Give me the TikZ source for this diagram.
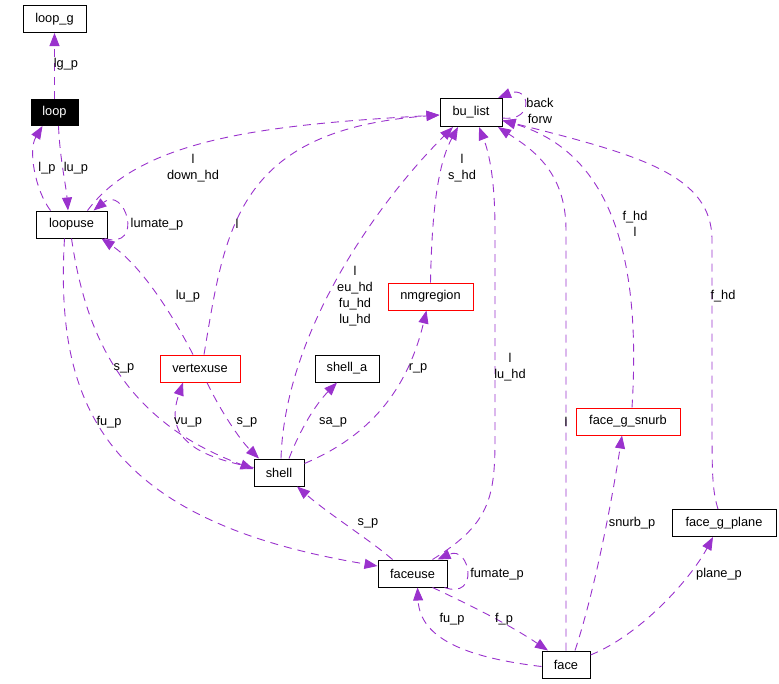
\documentclass[tikz,border=0pt]{standalone}
\usepackage{fontspec}
\setmainfont{Liberation Sans}
\usetikzlibrary{arrows.meta}
\definecolor{usecol}{RGB}{154,50,205}
\tikzset{
    cls/.style={draw, rectangle, line width=1pt, inner sep=0pt, minimum height=27pt, font=\fontsize{12.8}{16}\selectfont},
    hiddencls/.style={cls, fill=black, text=white},
    undoc/.style={cls, draw=red},
    lbl/.style={font=\fontsize{12.8}{16}\selectfont, align=center, inner sep=0pt},
    uses/.style={draw=usecol, line width=0.9pt, dash pattern=on 8pt off 6pt, -{Triangle[length=13pt,width=10pt]}} }

\begin{document}
\begin{tikzpicture}[x=1pt, y=-1pt]
            \useasboundingbox (0,0) rectangle (779,683);
            \node[cls, minimum width=63pt] (loopg) at (54.5,19) {loop\_g};
            \node[hiddencls, minimum width=47pt, minimum height=26pt] (loop) at (54.5,112.5) {loop};
            \node[cls, minimum width=71pt] (loopuse) at (71.5,224.5) {loopuse};
            \node[cls, minimum width=62pt, minimum height=28pt] (bulist) at (471,112.5) {bu\_list};
            \node[undoc, minimum width=85pt] (nmgregion) at (430.5,296.5) {nmgregion};
            \node[undoc, minimum width=80pt] (vertexuse) at (200,368.5) {vertexuse};
            \node[cls, minimum width=64pt] (shella) at (347,368.5) {shell\_a};
            \node[cls, minimum width=50pt] (shell) at (279,472.5) {shell};
            \node[undoc, minimum width=104pt] (snurb) at (628,421.5) {face\_g\_snurb};
            \node[cls, minimum width=104pt] (plane) at (724,523) {face\_g\_plane};
            \node[cls, minimum width=69pt] (faceuse) at (412.5,573.5) {faceuse};
            \node[cls, minimum width=48pt] (face) at (566,664.5) {face};
            % ----
            \draw[uses] (loop.north) -- (loopg.south);
            \draw[uses] ([xshift=4pt]loop.south) .. controls (60,160) and (66,185) .. ([xshift=-3.5pt]loopuse.north);
            \draw[uses] ([xshift=-21pt]loopuse.north) .. controls (35,190) and (28,150) .. ([xshift=-12pt]loop.south);
            \draw[uses] ([xshift=-3pt]loopuse.south east) .. controls (145,250) and (125,185) .. ([xshift=22pt]loopuse.north);
            \draw[uses] ([xshift=16pt]loopuse.north) .. controls (140,140) and (260,125) .. ([yshift=-2.5pt]bulist.west);
            \draw[uses] ([xshift=-7pt]vertexuse.north) .. controls (170,310) and (140,265) .. ([xshift=30pt]loopuse.south);
            \draw[uses] ([xshift=4pt]vertexuse.north) .. controls (225,230) and (235,130) .. ([yshift=-2.5pt]bulist.west);
            \draw[uses] (nmgregion.north) .. controls (432,200) and (440,160) .. ([xshift=-13pt]bulist.south);
            \draw[uses] ([xshift=2pt]shell.north) .. controls (285,330) and (380,200) .. ([xshift=-18pt]bulist.south);
            \draw[uses] ([xshift=20pt]faceuse.north) .. controls (488,525) and (495,500) .. (495,440) -- (495,230) .. controls (495,175) and (488,150) .. ([xshift=8pt]bulist.south);
            \draw[uses] (face.north) -- (566,230) .. controls (566,170) and (530,148) .. ([xshift=27pt]bulist.south);
            \draw[uses] ([xshift=4pt]snurb.north) .. controls (640,280) and (622,155) .. ([yshift=-8pt]bulist.east);
            \draw[uses] ([xshift=-6pt]plane.north) .. controls (712,490) and (712,470) .. (712,420) -- (712,240) .. controls (712,175) and (640,155) .. ([yshift=-8pt]bulist.east);
            \draw[uses] ([yshift=-5.5pt]bulist.east) .. controls (535,122) and (530,85) .. ([xshift=27pt]bulist.north);
            \draw[uses] (loopuse.south) .. controls (85,330) and (120,420) .. ([yshift=3.5pt]shell.west);
            \draw[uses] ([yshift=5pt]shell.west) .. controls (200,457) and (163,440) .. ([xshift=-17pt]vertexuse.south);
            \draw[uses] ([xshift=7pt]vertexuse.south) .. controls (220,410) and (240,440) .. ([xshift=-20pt]shell.north);
            \draw[uses] ([xshift=10pt]shell.north) .. controls (300,430) and (315,405) .. ([xshift=-10pt]shella.south);
            \draw[uses] ([yshift=9pt]shell.east) .. controls (360,440) and (405,400) .. ([xshift=-4pt]nmgregion.south);
            \draw[uses] ([xshift=-20pt]faceuse.north) .. controls (370,540) and (330,515) .. ([xshift=18pt]shell.south);
            \draw[uses] ([xshift=-7pt]loopuse.south) .. controls (55,400) and (100,520) .. ([yshift=7.5pt]faceuse.west);
            \draw[uses] ([xshift=-3pt]faceuse.south east) .. controls (480,600) and (470,545) .. ([xshift=25pt]faceuse.north);
            \draw[uses] ([xshift=20pt]faceuse.south) .. controls (470,605) and (510,625) .. ([xshift=-18pt]face.north);
            \draw[uses] ([yshift=-2pt]face.west) .. controls (470,658) and (420,640) .. ([xshift=5pt]faceuse.south);
            \draw[uses] ([xshift=9pt]face.north) .. controls (595,590) and (612,500) .. ([xshift=-6pt]snurb.south);
            \draw[uses] ([yshift=9.5pt]face.east) .. controls (640,635) and (690,580) .. ([xshift=-11pt]plane.south);
            % ----
            \node[lbl] (lglg) at (66,64) {lg\_p};
            \node[lbl] (lgl) at (47,168) {l\_p};
            \node[lbl] (lglu) at (76,168) {lu\_p};
            \node[lbl] (lglumate) at (157,224) {lumate\_p};
            \node[lbl] (lgdown) at (193,168) {l\\down\_hd};
            \node[lbl] (lgvul) at (237,224) {l};
            \node[lbl] (lgvulu) at (188,296) {lu\_p};
            \node[lbl] (lgback) at (540,111) {back\\forw};
            \node[lbl] (lgshd) at (462,168) {l\\s\_hd};
            \node[lbl] (lgshell) at (355,296) {l\\eu\_hd\\fu\_hd\\lu\_hd};
            \node[lbl] (lgsnurbhd) at (635,224) {f\_hd\\l};
            \node[lbl] (lgplanehd) at (723,296) {f\_hd};
            \node[lbl] (lgluhd) at (510,367.5) {l\\lu\_hd};
            \node[lbl] (lgfacel) at (566,422) {l};
            \node[lbl] (lglusp) at (124,368) {s\_p};
            \node[lbl] (lgrp) at (418,368) {r\_p};
            \node[lbl] (lglufu) at (109,422) {fu\_p};
            \node[lbl] (lgvu) at (188,422) {vu\_p};
            \node[lbl] (lgvusp) at (247,422) {s\_p};
            \node[lbl] (lgsa) at (333,422) {sa\_p};
            \node[lbl] (lgfusp) at (368,523) {s\_p};
            \node[lbl] (lgsnurb) at (632,523) {snurb\_p};
            \node[lbl] (lgfumate) at (497,574) {fumate\_p};
            \node[lbl] (lgplane) at (719,574) {plane\_p};
            \node[lbl] (lgfu) at (452,619) {fu\_p};
            \node[lbl] (lgf) at (504,619) {f\_p};
\end{tikzpicture}
\end{document}
